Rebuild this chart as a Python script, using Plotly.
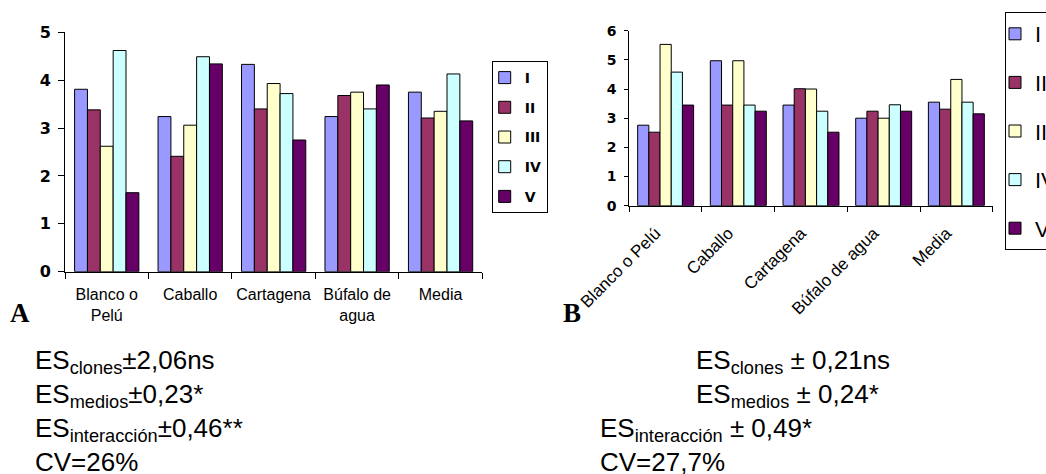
import plotly.graph_objects as go

W, H = 1046, 474

categories = ["Blanco o Pelú", "Caballo", "Cartagena", "Búfalo de agua", "Media"]
tick_labels_a = ["Blanco o<br>Pelú", "Caballo", "Cartagena", "Búfalo de<br>agua", "Media"]
tick_labels_b = ["Blanco o Pelú", "Caballo", "Cartagena", "Búfalo de agua", "Media"]
series_names = ["I", "II", "III", "IV", "V"]
series_colors = ["#9999FF", "#993366", "#FFFFCC", "#CCFFFF", "#660066"]

a_I = [3.81, 3.24, 4.33, 3.24, 3.75]
a_II = [3.38, 2.41, 3.40, 3.68, 3.21]
a_III = [2.62, 3.06, 3.93, 3.75, 3.35]
a_IV = [4.62, 4.49, 3.72, 3.40, 4.13]
a_V = [1.65, 4.34, 2.75, 3.90, 3.15]

b_I = [2.76, 4.97, 3.45, 3.00, 3.55]
b_II = [2.52, 3.45, 4.01, 3.24, 3.31]
b_III = [5.53, 4.97, 4.00, 3.00, 4.33]
b_IV = [4.58, 3.45, 3.24, 3.46, 3.55]
b_V = [3.45, 3.24, 2.52, 3.24, 3.15]

stats_a = ["ES<sub>clones</sub>±2,06ns", "ES<sub>medios</sub>±0,23*",
           "ES<sub>interacción</sub>±0,46**", "CV=26%"]
stats_b = ["ES<sub>clones</sub> ± 0,21ns", "ES<sub>medios</sub> ± 0,24*",
           "ES<sub>interacción</sub> ± 0,49*", "CV=27,7%"]

def px(x):
    return x / W

def py(y):
    return 1 - y / H

fig = go.Figure()

for name, color, vals in zip(series_names, series_colors, [a_I, a_II, a_III, a_IV, a_V]):
    fig.add_trace(go.Bar(x=categories, y=vals, name=name, marker=dict(color=color, line=dict(color="black", width=1)),
                         xaxis="x", yaxis="y", legend="legend", legendgroup="a" + name))
for name, color, vals in zip(series_names, series_colors, [b_I, b_II, b_III, b_IV, b_V]):
    fig.add_trace(go.Bar(x=categories, y=vals, name=name, marker=dict(color=color, line=dict(color="black", width=1)),
                         xaxis="x2", yaxis="y2", legend="legend2", legendgroup="b" + name))

axis_common = dict(showline=True, linecolor="black", linewidth=1, showgrid=False, zeroline=False,
                   ticks="outside", tickcolor="black", tickwidth=1)

fig.update_layout(
    width=W, height=H, autosize=False,
    margin=dict(l=0, r=0, t=0, b=0, autoexpand=False),
    paper_bgcolor="white", plot_bgcolor="white",
    barmode="group", bargap=0.23, bargroupgap=0,
    font=dict(family="Liberation Sans, Arial", color="black"),
    xaxis=dict(domain=[px(65), px(482.3)], anchor="y", type="category",
               tickvals=categories, ticktext=tick_labels_a, tickson="boundaries", ticklen=6,
               tickfont=dict(size=16, family="Liberation Sans, Arial"), tickangle=0,
               ticklabelstandoff=8, **axis_common),
    yaxis=dict(domain=[py(271.7), py(32.3)], anchor="x", range=[0, 5], dtick=1, ticklen=6,
               tickfont=dict(size=16, family="DejaVu Sans", weight="bold"), ticklabelstandoff=4, **axis_common),
    xaxis2=dict(domain=[px(629.3), px(992.7)], anchor="y2", type="category",
                tickvals=categories, ticktext=tick_labels_b, tickson="boundaries", ticklen=5,
                tickfont=dict(size=17, family="Liberation Sans, Arial"), tickangle=-45,
                ticklabelstandoff=10, ticklabelshift=-10, **axis_common),
    yaxis2=dict(domain=[py(205.7), py(30.7)], anchor="x2", range=[0, 6], dtick=1, ticklen=4,
                tickfont=dict(size=14, family="DejaVu Sans", weight="bold"), ticklabelstandoff=5, **axis_common),
    legend=dict(x=px(491.7), y=py(61), xanchor="left", yanchor="top", bordercolor="black", borderwidth=1,
                bgcolor="white", font=dict(size=14, family="DejaVu Sans", weight="bold"), tracegroupgap=8.5,
                itemwidth=30, indentation=-8),
    legend2=dict(x=px(1005), y=py(12), xanchor="left", yanchor="top", bordercolor="black", borderwidth=1,
                 bgcolor="white", font=dict(size=22, family="Liberation Sans, Arial"), tracegroupgap=17,
                 itemwidth=30, indentation=-11),
    showlegend=True,
)

# Panel letters
fig.add_annotation(text="<b>A</b>", x=px(8), y=py(330), xref="paper", yref="paper", xanchor="left",
                   yanchor="bottom", showarrow=False, font=dict(size=27, family="Liberation Serif"))
fig.add_annotation(text="<b>B</b>", x=px(561), y=py(330), xref="paper", yref="paper", xanchor="left",
                   yanchor="bottom", showarrow=False, font=dict(size=27, family="Liberation Serif"))

line_centers = [361, 395, 429, 462]
left_x_a = [33, 33, 33, 33]
left_x_b = [694, 694, 598, 598]
for i, txt in enumerate(stats_a):
    fig.add_annotation(text=txt, x=px(left_x_a[i]), y=py(line_centers[i]), xref="paper", yref="paper",
                       xanchor="left", yanchor="middle", showarrow=False,
                       font=dict(size=26, family="Liberation Sans, Arial"))
for i, txt in enumerate(stats_b):
    fig.add_annotation(text=txt, x=px(left_x_b[i]), y=py(line_centers[i]), xref="paper", yref="paper",
                       xanchor="left", yanchor="middle", showarrow=False,
                       font=dict(size=26, family="Liberation Sans, Arial"))

fig.write_html("out.html", config={"displayModeBar": False},
               post_script="document.body.style.margin='0';")
